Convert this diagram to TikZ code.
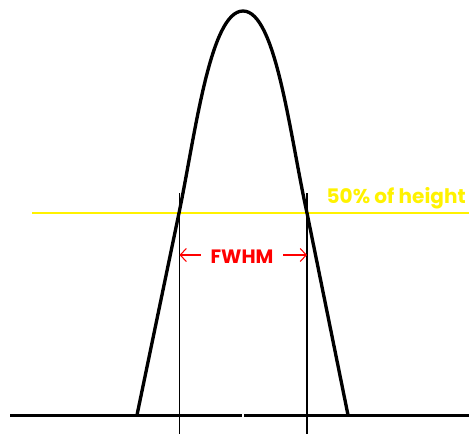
\documentclass[tikz,border=0pt]{standalone}
\usepackage{fontspec}
\setsansfont{Poppins}
\usetikzlibrary{arrows.meta}

\begin{document}
\begin{tikzpicture}[x=0.02cm,y=-0.02cm,
  peak/.style={line width=1.9pt,black,line join=round},
  axis/.style={line width=1.7pt,black},
  marker/.style={line width=0.6pt,black},
  halfline/.style={line width=1.1pt,yellow},
  widtharrow/.style={line width=0.6pt,red,-{Straight Barb[length=3.5pt,width=7.5pt]}},
  lbl/.style={font=\sffamily\bfseries,inner ysep=0pt}]
\useasboundingbox (0,0) rectangle (469,434);
% baseline, broken in the middle
\draw[axis] (10,415) -- (242,415);
\draw[axis] (244,415) -- (469,415);
% half-height level
\draw[halfline] (32,213) -- (469,213);
\node[lbl,text=yellow,anchor=base east,inner xsep=0pt,font=\sffamily\bfseries\fontsize{11.4}{13}\selectfont]
  (half) at (466,203) {50\% of height};
% the peak
\draw[peak] (137,415) -- (179,213)
  .. controls (195,136) and (210,11) .. (243,11)
  .. controls (276,11) and (290,136) .. (307,213) -- (348,415);
% width markers
\draw[marker] (179.5,193) -- (179.5,434);
\draw[marker] (307,193) -- (307,434);
\coordinate (wl) at (179.5,255);
\coordinate (wr) at (307,255);
\node[lbl,text=red,inner xsep=5.5pt,font=\sffamily\bfseries\fontsize{11}{13}\selectfont]
  (fwhm) at (242,257) {FWHM};
\draw[widtharrow] (fwhm.west |- wl) -- (wl);
\draw[widtharrow] (fwhm.east |- wr) -- (wr);
\end{tikzpicture}
\end{document}
